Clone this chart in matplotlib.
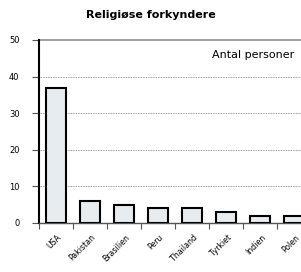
import matplotlib
matplotlib.use("Agg")
import matplotlib.pyplot as plt
import matplotlib.transforms as mtransforms
import numpy as np

categories = ["USA", "Pakistan", "Brasilien", "Peru", "Thailand", "Tyrkiet", "Indien", "Polen"]
values = [37, 6, 5, 4, 4, 3, 2, 2]
yticks = [0, 10, 20, 30, 40, 50]

fig = plt.figure(figsize=(3.01, 2.72), dpi=100)
ax = fig.add_axes([39/301, 49/272, 272/301, 183/272])

x = np.arange(len(categories))
ax.bar(x, values, width=0.58, color="#e6ecf0", edgecolor="black", linewidth=1.5, zorder=3)

ax.set_xlim(-0.5, len(categories) - 0.5)
ax.set_ylim(0, 50)
ax.set_yticks(yticks)
ax.set_yticklabels([str(v) for v in yticks], fontsize=6)
for v in yticks[1:-1]:
    ax.axhline(v, color="#808080", linestyle=(0, (1, 1)), linewidth=0.6, zorder=1)
ax.axhline(50, color="#909090", linewidth=1.2, zorder=1, clip_on=False)

ax.set_xticks(x)
ax.set_xticklabels(categories, rotation=45, ha="right", rotation_mode="anchor", fontsize=5.6)
ax.tick_params(axis="x", which="major", length=0, pad=7)
offset = mtransforms.ScaledTranslation(1/100, 0, fig.dpi_scale_trans)
for lab in ax.get_xticklabels():
    lab.set_transform(lab.get_transform() + offset)
ax.set_xticks(np.arange(-0.5, len(categories)), minor=True)
ax.tick_params(axis="x", which="minor", length=4, width=0.8, color="#555555")
ax.tick_params(axis="y", length=5, width=0.8, pad=9, color="#555555")

for s in ["top", "right"]:
    ax.spines[s].set_visible(False)
ax.spines["left"].set_linewidth(1.5)
ax.spines["bottom"].set_linewidth(1.0)
ax.spines["bottom"].set_color("#555555")

fig.text(0.977, 1 - 55/272, "Antal personer", ha="right", va="center", fontsize=8)
fig.text(0.5, 0.945, "Religiøse forkyndere", ha="center", va="center", fontsize=8, fontweight="bold")

fig.savefig("out.png", dpi=100)
